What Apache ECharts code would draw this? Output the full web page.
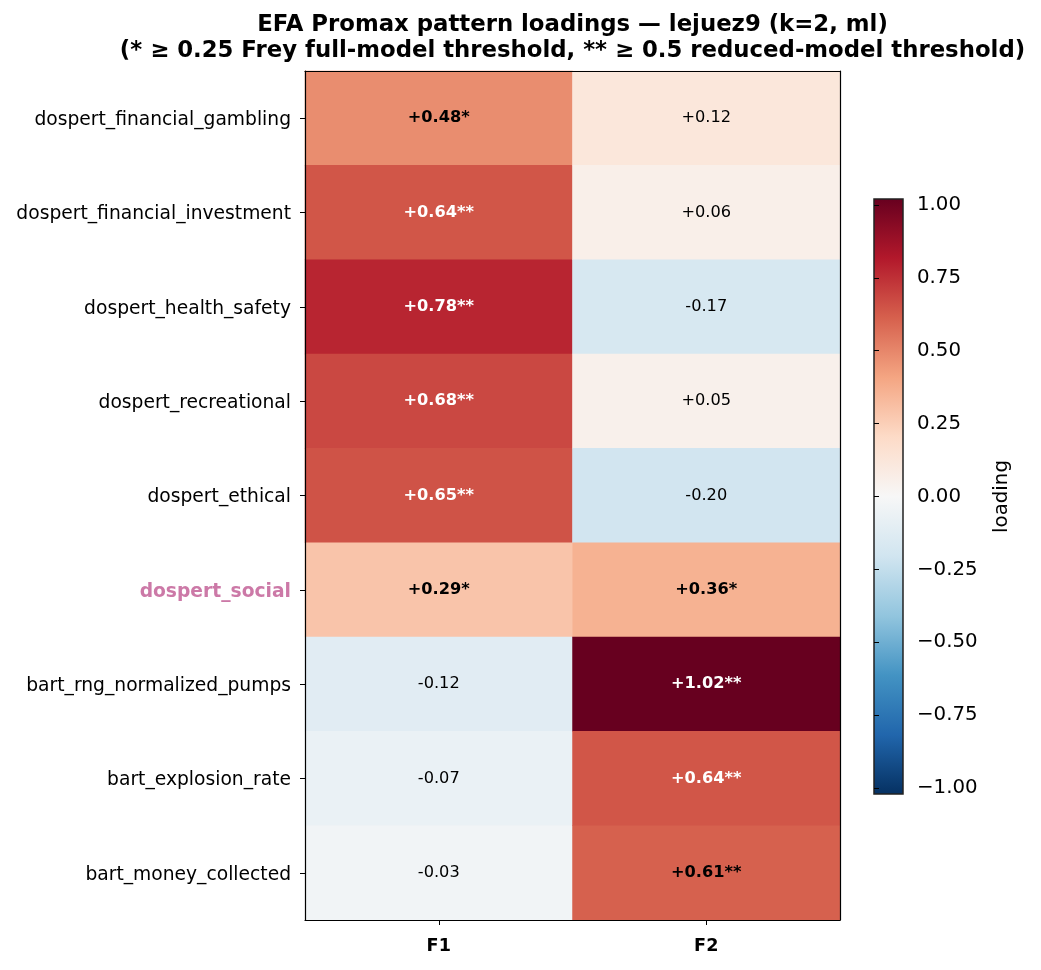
<!DOCTYPE html>
<html>
<head>
<meta charset="utf-8">
<script src="https://cdn.jsdelivr.net/npm/echarts@6/dist/echarts.min.js"></script>
<style>html,body{margin:0;padding:0;background:#fff}#c{width:1041px;height:970px}</style>
</head>
<body>
<div id="c"></div>
<script>
const titleLines = ['EFA Promax pattern loadings \u2014 lejuez9 (k=2, ml)', '(* \u2265 0.25 Frey full-model threshold, ** \u2265 0.5 reduced-model threshold)'];
const factors = ['F1', 'F2'];
const variables = ['dospert_financial_gambling', 'dospert_financial_investment', 'dospert_health_safety', 'dospert_recreational', 'dospert_ethical', 'dospert_social', 'bart_rng_normalized_pumps', 'bart_explosion_rate', 'bart_money_collected'];
const loadingsF1 = [0.48, 0.64, 0.78, 0.68, 0.65, 0.29, -0.12, -0.07, -0.03];
const loadingsF2 = [0.12, 0.06, -0.17, 0.05, -0.20, 0.36, 1.02, 0.64, 0.61];
const highlighted = ['dospert_social'];
const thresholdFull = 0.25;
const thresholdReduced = 0.5;
const vmax = 1.02;
const colorbarTicks = [-1.0, -0.75, -0.5, -0.25, 0, 0.25, 0.5, 0.75, 1.0];
const cmap = ['#053061', '#2166ac', '#4393c3', '#92c5de', '#d1e5f0', '#f7f7f7', '#fddbc7', '#f4a582', '#d6604d', '#b2182b', '#67001f'];

const FONT = 'DejaVu Sans';
const cols = [loadingsF1, loadingsF2];
const data = [];
cols.forEach((col, xi) => {
  col.forEach((v, yi) => {
    const a = Math.abs(v);
    const stars = a >= thresholdReduced ? '**' : (a >= thresholdFull ? '*' : '');
    const txt = (v >= 0 ? '+' : '-') + a.toFixed(2) + stars;
    data.push({
      value: [xi, yi, v],
      label: {
        formatter: txt,
        color: a > 0.6 * vmax ? '#ffffff' : '#000000',
        fontWeight: a >= thresholdFull ? 'bold' : 'normal'
      }
    });
  });
});

const gradStops = cmap.slice().reverse().map((c, i) => ({offset: i / (cmap.length - 1), color: c}));

const chart = echarts.init(document.getElementById('c'), null, {renderer: 'canvas'});
chart.setOption({
  animation: false,
  backgroundColor: '#ffffff',
  textStyle: {fontFamily: FONT},
  graphic: [
    {type: 'text', x: 572.5, y: 25, style: {text: titleLines[0], font: 'bold 22.8px "DejaVu Sans"', fill: '#000', textAlign: 'center', textVerticalAlign: 'middle'}},
    {type: 'text', x: 572.5, y: 51, style: {text: titleLines[1], font: 'bold 22.8px "DejaVu Sans"', fill: '#000', textAlign: 'center', textVerticalAlign: 'middle'}}
  ],
  grid: [
    {left: 305, top: 71, width: 535, height: 849, show: false},
    {left: 874, top: 199, width: 29, height: 595, show: true, borderColor: '#222', borderWidth: 1.5,
     backgroundColor: {type: 'linear', x: 0, y: 0, x2: 0, y2: 1, colorStops: gradStops}}
  ],
  xAxis: [
    {type: 'category', gridIndex: 0, data: factors, position: 'bottom', z: 10,
     axisLine: {show: true, lineStyle: {color: '#000', width: 1.2}},
     axisTick: {show: true, alignWithLabel: true, length: 5, lineStyle: {color: '#000'}},
     axisLabel: {fontSize: 17.6, fontWeight: 'bold', color: '#000', margin: 17, fontFamily: FONT},
     splitLine: {show: false}},
    {type: 'value', gridIndex: 1, min: 0, max: 1, show: false},
    {type: 'category', gridIndex: 0, data: factors, position: 'top', z: 10,
     axisLine: {show: true, lineStyle: {color: '#000', width: 1.2}},
     axisTick: {show: false}, axisLabel: {show: false}, splitLine: {show: false}}
  ],
  yAxis: [
    {type: 'category', gridIndex: 0, data: variables, inverse: true, z: 10,
     axisLine: {show: true, lineStyle: {color: '#000', width: 1.2}},
     axisTick: {show: true, alignWithLabel: true, length: 5, lineStyle: {color: '#000'}},
     axisLabel: {fontSize: 18.7, color: '#000', margin: 14, fontFamily: FONT, padding: [4, 0, 0, 0],
       formatter: v => highlighted.indexOf(v) >= 0 ? '{hl|' + v + '}' : v,
       rich: {hl: {fontSize: 18.7, fontWeight: 'bold', color: '#cc79a7', fontFamily: FONT}}},
     splitLine: {show: false}},
    {type: 'value', gridIndex: 1, min: -vmax, max: vmax, position: 'right',
     axisLine: {show: false},
     axisTick: {show: true, length: 5, customValues: colorbarTicks, lineStyle: {color: '#000'}},
     axisLabel: {show: true, customValues: colorbarTicks, fontSize: 19.8, color: '#000', margin: 14, fontFamily: FONT, padding: [5, 0, 0, 0],
       formatter: v => (v < 0 ? '\u2212' : '') + Math.abs(v).toFixed(2)},
     splitLine: {show: false},
     name: 'loading', nameLocation: 'middle', nameRotate: 90, nameGap: 89,
     nameTextStyle: {fontSize: 19.8, color: '#000', fontFamily: FONT}},
    {type: 'category', gridIndex: 0, data: variables, inverse: true, position: 'right', z: 10,
     axisLine: {show: true, lineStyle: {color: '#000', width: 1.2}},
     axisTick: {show: false}, axisLabel: {show: false}, splitLine: {show: false}}
  ],
  visualMap: {
    type: 'continuous', show: false, seriesIndex: 0, min: -vmax, max: vmax,
    inRange: {color: cmap}
  },
  series: [{
    type: 'heatmap', xAxisIndex: 0, yAxisIndex: 0, data: data,
    label: {show: true, fontSize: 16.2, fontFamily: FONT, padding: [2, 0, 0, 0]},
    itemStyle: {borderWidth: 0},
    emphasis: {disabled: true}
  }]
});
</script>
</body>
</html>
